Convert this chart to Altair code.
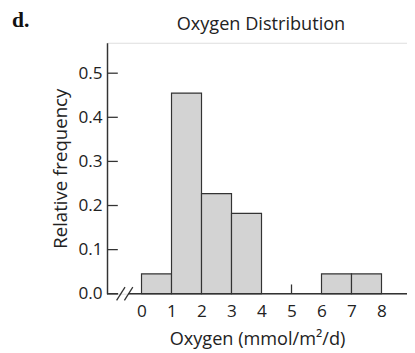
import altair as alt
import pandas as pd

bin_start = [0, 1, 2, 3, 6, 7]
bin_end = [1, 2, 3, 4, 7, 8]
rel_freq = [0.045, 0.455, 0.227, 0.182, 0.045, 0.045]
y_ticks = [0.0, 0.1, 0.2, 0.3, 0.4, 0.5]
x_labels = [0, 1, 2, 3, 4, 5, 6, 7, 8]
x_tick_marks = [5]
# axis line segments (x from, x to) with break
axis_from = [-1.15, -0.45]
axis_to = [-0.78, 8.9]
# break slashes
slash_x = [-0.83, -0.57]
slash_x2 = [-0.55, -0.29]

W, H = 306, 256
XD = [-1.15, 8.85]
YD = [0, 0.569]
FONT = "Open Sans"
LBL = 17.5
TTL = 18.5

bars = pd.DataFrame({"x": bin_start, "x2": bin_end, "y": rel_freq})
xs = alt.Scale(domain=XD, nice=False, zero=False)
ys = alt.Scale(domain=YD, nice=False)

x_axis = alt.Axis(
    values=x_labels, ticks=False, domain=False, grid=False, labelOverlap=False,
    labelFontSize=LBL, labelFont=FONT, labelColor="#222", labelPadding=9,
    title="Oxygen (mmol/m²/d)", titleFont=FONT, titleFontSize=TTL,
    titleFontWeight="normal", titleColor="#222", titlePadding=10, format="d")
y_axis = alt.Axis(
    values=y_ticks, ticks=False, domain=True, domainColor="#333",
    domainWidth=1.5, grid=False, format=".1f", labelOverlap=False,
    labelFontSize=LBL, labelFont=FONT, labelColor="#222", labelPadding=5,
    title="Relative frequency", titleFont=FONT, titleFontSize=TTL + 0.5,
    titleFontWeight="normal", titleColor="#222", titlePadding=8)

base_bars = alt.Chart(bars).mark_bar(
    fill="#d3d3d3", stroke="#333333", strokeWidth=1.2
).encode(
    x=alt.X("x:Q", scale=xs, axis=x_axis),
    x2="x2:Q",
    y=alt.Y("y:Q", scale=ys, axis=y_axis),
    y2=alt.datum(0),
)

ytick_df = pd.DataFrame({"y": y_ticks})
yticks = alt.Chart(ytick_df).mark_rule(color="#333", strokeWidth=1.3).encode(
    x=alt.value(0), x2=alt.value(11), y=alt.Y("y:Q", scale=ys, axis=y_axis))

xtick_df = pd.DataFrame({"x": x_tick_marks, "y": [0.0], "y2": [0.021]})
xticks = alt.Chart(xtick_df).mark_rule(color="#333", strokeWidth=1.3).encode(
    x=alt.X("x:Q", scale=xs, axis=x_axis), y=alt.Y("y:Q", scale=ys, axis=y_axis),
    y2="y2:Q")

axis_df = pd.DataFrame({"x": axis_from, "x2": axis_to, "y": [0.0, 0.0]})
xaxis = alt.Chart(axis_df).mark_rule(color="#333", strokeWidth=1.5).encode(
    x=alt.X("x:Q", scale=xs, axis=x_axis), x2="x2:Q",
    y=alt.Y("y:Q", scale=ys, axis=y_axis))

slash_df = pd.DataFrame({"x": slash_x, "x2": slash_x2,
                         "y": [-0.015, -0.015], "y2": [0.015, 0.015]})
slashes = alt.Chart(slash_df).mark_rule(color="#333", strokeWidth=1.3).encode(
    x=alt.X("x:Q", scale=xs, axis=x_axis), x2="x2:Q",
    y=alt.Y("y:Q", scale=ys, axis=y_axis), y2="y2:Q")

panel = alt.Chart(pd.DataFrame({"t": ["d."]})).mark_text(
    font="Liberation Serif", fontSize=22, fontWeight="bold", align="left",
    baseline="alphabetic", color="#111"
).encode(x=alt.value(-97), y=alt.value(-16), text="t:N")

title = alt.Chart(pd.DataFrame({"t": ["Oxygen Distribution"]})).mark_text(
    font=FONT, fontSize=TTL, align="center", baseline="alphabetic", color="#222"
).encode(x=alt.value(157), y=alt.value(-13), text="t:N")

chart = alt.layer(base_bars, yticks, xticks, xaxis, slashes, panel, title).properties(
    width=W, height=H,
    autosize=alt.AutoSizeParams(type="none"),
    padding={"left": 101, "top": 32, "right": 0, "bottom": 57},
).configure_view(stroke=None).configure_axis(labelOverlap=False).configure(
    background="white")

chart.save("out.html", embed_options={"renderer": "svg", "actions": False})
